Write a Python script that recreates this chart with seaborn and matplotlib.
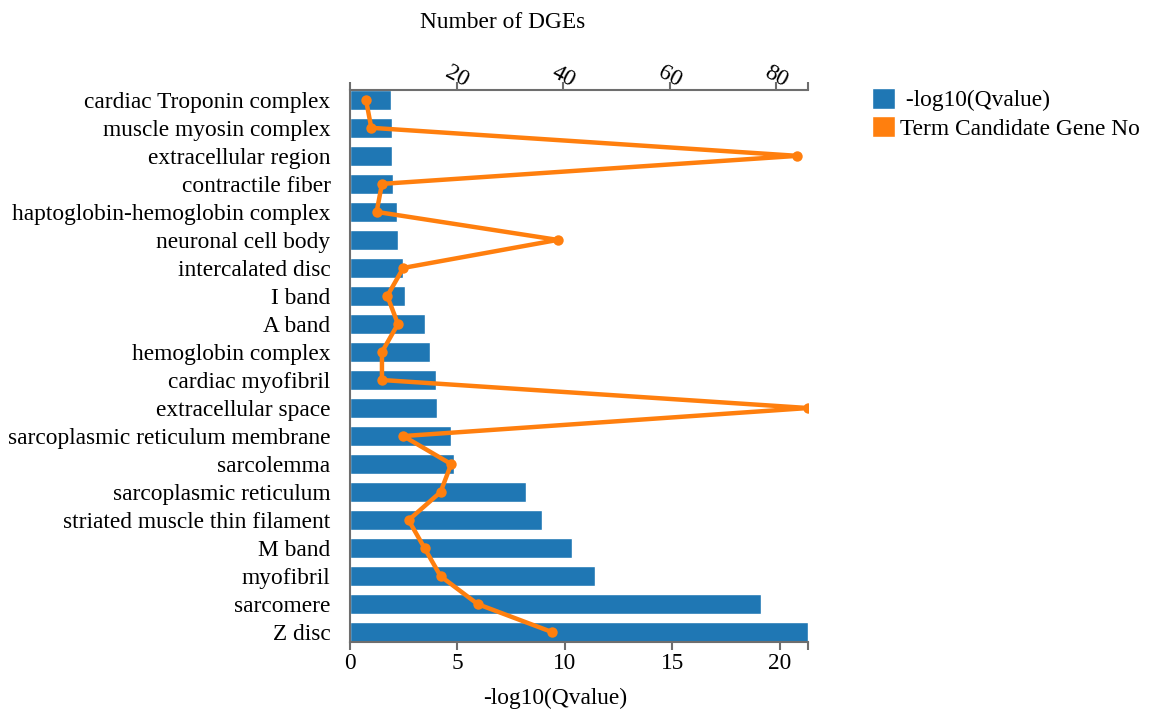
import matplotlib.pyplot as plt
from matplotlib.patches import Patch
import numpy as np
import pandas as pd
import seaborn as sns

terms = ["cardiac Troponin complex", "muscle myosin complex", "extracellular region",
         "contractile fiber", "haptoglobin-hemoglobin complex", "neuronal cell body",
         "intercalated disc", "I band", "A band", "hemoglobin complex",
         "cardiac myofibril", "extracellular space", "sarcoplasmic reticulum membrane",
         "sarcolemma", "sarcoplasmic reticulum", "striated muscle thin filament",
         "M band", "myofibril", "sarcomere", "Z disc"]
qvalue = [1.93, 1.97, 1.97, 2.02, 2.2, 2.25, 2.49, 2.55, 3.48, 3.71,
          4.0, 4.03, 4.68, 4.82, 8.19, 8.95, 10.33, 11.41, 19.12, 21.32]
genes = [3, 4, 84, 6, 5, 39, 10, 7, 9, 6,
         6, 86, 10, 19, 17, 11, 14, 17, 24, 38]

df = pd.DataFrame({'term': terms, 'qvalue': qvalue, 'genes': genes, 'pos': np.arange(len(terms))})

blue = '#1f77b4'
orange = '#ff7f0e'
grey = '#6e6e6e'
fs = 16.8

sns.set_theme(style='white')
plt.rcParams['font.family'] = ['Liberation Serif', 'DejaVu Serif']
plt.rcParams['text.color'] = 'black'
plt.rcParams['axes.labelcolor'] = 'black'

fig = plt.figure(figsize=(11.51, 7.14), dpi=100)
ax = fig.add_axes([350/1151, 1-642/714, 458/1151, 552/714])

sns.barplot(data=df, x='qvalue', y='term', orient='h', color=blue, saturation=1, width=0.7, ax=ax)
ax.set_ylim(len(terms) - 1 + 0.35, -0.35)
ax.set_xlim(0, max(qvalue))
ax.set_xticks([0, 5, 10, 15, 20])
ax.set_xticks([max(qvalue)], minor=True)
ax.set_yticks([len(terms) - 1 + 0.35, -0.35], minor=True)
ax.set_ylabel('')
ax.set_xlabel('-log10(Qvalue)', fontsize=fs)
ax.xaxis.set_label_coords(0.4476, -0.083)

ax2 = ax.twiny()
sns.lineplot(data=df, x='genes', y='pos', sort=False, orient='y', color=orange,
             linewidth=3.2, marker='o', markersize=7.5, markeredgewidth=0, legend=False, ax=ax2)
ax2.set_xlim(0, max(genes))
ax2.set_xticks([20, 40, 60, 80])
ax2.set_xticks([0, max(genes)], minor=True)
ax2.set_xlabel('Number of DGEs', fontsize=fs)
ax2.xaxis.set_label_coords(0.334, 1.113)

for a in (ax, ax2):
    for s in a.spines.values():
        s.set_visible(False)
        s.set_color(grey)
        s.set_linewidth(1.5)
    a.tick_params(which='both', length=6, width=1.5, color=grey, labelsize=fs, labelcolor='black', pad=2)
ax.spines['left'].set_visible(True)
ax.spines['bottom'].set_visible(True)
ax2.spines['top'].set_visible(True)
ax.tick_params(axis='y', pad=8)
ax2.tick_params(axis='x', pad=-7)
for lbl in ax2.get_xticklabels():
    lbl.set_rotation(-28)
    lbl.set_ha('center')
    lbl.set_va('bottom')
ax.grid(False)
ax2.grid(False)

handles = [Patch(facecolor=blue), Patch(facecolor=orange)]
fig.legend(handles, [' -log10(Qvalue)', 'Term Candidate Gene No'], loc='upper left',
           bbox_to_anchor=(872/1151, 1-88/714), frameon=False, fontsize=fs,
           handlelength=1.0, handleheight=1.0, handletextpad=0.2, labelspacing=0.2,
           borderaxespad=0, borderpad=0)

plt.savefig('out.png', dpi=100)
